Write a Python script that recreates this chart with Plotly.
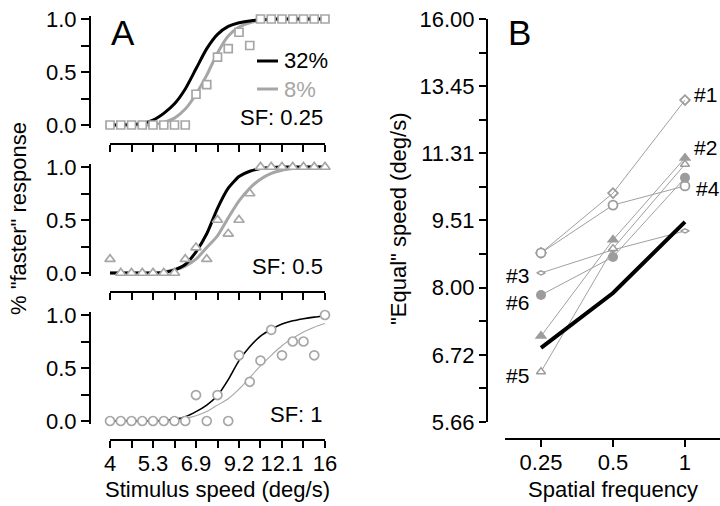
import plotly.graph_objects as go

W, H = 720, 506
FONT = "Liberation Sans, Arial, Helvetica, sans-serif"
GRAY = "#a6a6a6"

# ---------------- Panel A data ----------------
# stimulus speeds (deg/s), 21 log-spaced levels
speed = [4.0, 4.287, 4.595, 4.925, 5.278, 5.657, 6.063, 6.498, 6.964, 7.464, 8.0,
         8.574, 9.190, 9.849, 10.556, 11.314, 12.126, 12.996, 13.929, 14.929, 16.0]
x_tickvals = [4.0, 4.595, 5.278, 6.063, 6.964, 8.0, 9.190, 10.556, 12.126, 13.929, 16.0]
x_ticktext = ["4", "", "5.3", "", "6.9", "", "9.2", "", "12.1", "", "16"]

# SF 0.25
data_025 = [0, 0, 0, 0, 0, 0, 0, 0, 0.29, 0.38, 0.64, 0.72, 0.875, 0.75, 1, 1, 1, 1, 1, 1, 1]
fit_025_32 = [0, 0, 0.005, 0.015, 0.045, 0.11, 0.2, 0.34, 0.53, 0.72, 0.855, 0.93, 0.965,
              0.982, 0.993, 0.998, 1, 1, 1, 1, 1]
fit_025_8 = [0, 0, 0, 0, 0.005, 0.025, 0.065, 0.15, 0.29, 0.47, 0.68, 0.84, 0.925, 0.965,
             0.985, 0.995, 1, 1, 1, 1, 1]
# SF 0.5
data_05 = [0.13, 0, 0, 0, 0, 0, 0, 0.13, 0.24, 0.13, 0.5, 0.37, 0.5, 0.75, 1, 1, 1, 1, 1, 1, 1]
fit_05_32 = [0, 0, 0, 0, 0, 0.005, 0.03, 0.08, 0.2, 0.37, 0.61, 0.8, 0.91, 0.96, 0.985,
             0.995, 1, 1, 1, 1, 1]
fit_05_8 = [0, 0, 0, 0, 0, 0.01, 0.03, 0.065, 0.13, 0.24, 0.35, 0.52, 0.68, 0.8, 0.885,
            0.94, 0.97, 0.985, 0.995, 1, 1]
# SF 1
data_1 = [0, 0, 0, 0, 0, 0, 0, 0, 0.245, 0, 0.245, 0, 0.62, 0.37, 0.57, 0.86, 0.62, 0.75,
          0.75, 0.62, 1.0]
fit_1_32 = [0, 0, 0, 0, 0, 0.005, 0.015, 0.04, 0.088, 0.15, 0.24, 0.39, 0.57, 0.7, 0.8,
            0.865, 0.915, 0.945, 0.965, 0.98, 0.99]
fit_1_8 = [0, 0, 0, 0, 0, 0, 0.01, 0.025, 0.05, 0.09, 0.15, 0.21, 0.3, 0.41, 0.52, 0.62,
           0.71, 0.78, 0.84, 0.885, 0.92]

# ---------------- Panel B data ----------------
sf = [0.25, 0.5, 1.0]
subj1 = [8.75, 10.21, 12.98]
subj2 = [7.06, 9.05, 11.18]
subj3 = [8.31, 8.82, 9.26]
subj4 = [8.75, 9.90, 10.40]
subj5 = [6.44, 8.85, 11.0]
subj6 = [7.85, 8.66, 10.62]
mean_eq = [6.85, 7.89, 9.48]
b_ytickvals = [5.657, 6.169, 6.727, 7.336, 8.0, 8.724, 9.514, 10.375, 11.314, 12.338,
               13.454, 14.672, 16.0]
b_yticktext = ["5.66", "", "6.72", "", "8.00", "", "9.51", "", "11.31", "", "13.45", "", "16.00"]
b_xtickvals = [0.25, 0.5, 1.0]
b_xticktext = ["0.25", "0.5", "1"]


def px(x):
    return x / W


def py(y):
    return 1 - y / H


fig = go.Figure()

# ----- Panel A subplots -----
panels = [
    ("x", "y", data_025, fit_025_32, fit_025_8, "square", 8, 3, 3, 0),
    ("x2", "y2", data_05, fit_05_32, fit_05_8, "triangle-up", 9, 3, 3, 148),
    ("x3", "y3", data_1, fit_1_32, fit_1_8, "circle", 9, 1.6, 1.1, 296),
]
pad = 0.025
for i, (xa, ya, dat, f32, f8, sym, msz, w32, w8, off) in enumerate(panels):
    fig.add_trace(go.Scatter(x=speed, y=f8, xaxis=xa, yaxis=ya, mode="lines",
                             line=dict(color=GRAY, width=w8, shape="spline", smoothing=0.6),
                             hoverinfo="skip"))
    fig.add_trace(go.Scatter(x=speed, y=f32, xaxis=xa, yaxis=ya, mode="lines",
                             line=dict(color="black", width=w32, shape="spline", smoothing=0.6),
                             hoverinfo="skip"))
    fig.add_trace(go.Scatter(x=speed, y=dat, xaxis=xa, yaxis=ya, mode="markers",
                             cliponaxis=False,
                             marker=dict(symbol=sym, size=msz, color="white",
                                         line=dict(color=GRAY, width=1.7))))
    y0 = 125 + off
    y1 = 19 + off
    unit = (y0 - y1)
    dom = [py(y0 + pad * unit), py(y1 - pad * unit)]
    suffix = "" if i == 0 else str(i + 1)
    fig.update_layout(**{
        "xaxis" + suffix: dict(domain=[px(110), px(325)], type="log",
                               range=[0.60200, 1.20418], anchor="free", automargin=False,
                               position=py(144 + off), showline=True, linewidth=2,
                               linecolor="black", ticks="outside", ticklen=7, tickwidth=2,
                               tickcolor="black", tickvals=x_tickvals,
                               ticktext=x_ticktext if i == 2 else [""] * 11,
                               ticklabelstandoff=-3,
                               showgrid=False, zeroline=False,
                               tickfont=dict(family=FONT, size=22, color="black")),
        "yaxis" + suffix: dict(domain=dom, range=[-pad, 1 + pad], anchor="free",
                               automargin=False,
                               position=px(90), showline=True, linewidth=2,
                               linecolor="black", ticks="outside", ticklen=8, tickwidth=2,
                               tickcolor="black", tickvals=[0, 0.25, 0.5, 0.75, 1],
                               ticktext=["0.0", "", "0.5", "", "1.0"], showgrid=False,
                               zeroline=False,
                               tickfont=dict(family=FONT, size=22, color="black")),
    })

# ----- Panel B -----
line_g = dict(color="#a0a0a0", width=1)
subjects = [
    (subj1, dict(symbol="diamond-open", size=7.5, color="#9c9c9c", line=dict(width=1.7))),
    (subj4, dict(symbol="circle", size=9, color="white", line=dict(color="#9c9c9c", width=1.8))),
    (subj3, dict(symbol="diamond-wide", size=6, color="white", line=dict(color="#9c9c9c", width=1.4))),
    (subj5, dict(symbol="triangle-up", size=8, color="white", line=dict(color="#9c9c9c", width=1.4))),
    (subj2, dict(symbol="triangle-up", size=11, color="#9c9c9c", line=dict(width=0))),
    (subj6, dict(symbol="circle", size=10, color="#9c9c9c", line=dict(width=0))),
]
for vals, mk in subjects:
    fig.add_trace(go.Scatter(x=sf, y=vals, xaxis="x4", yaxis="y4", mode="lines+markers",
                             line=line_g, marker=mk, cliponaxis=False))
fig.add_trace(go.Scatter(x=sf, y=mean_eq, xaxis="x4", yaxis="y4", mode="lines",
                         line=dict(color="black", width=4)))

fig.update_layout(
    xaxis4=dict(domain=[px(505), 1.0], type="log", range=[-0.7526, 0.1464], anchor="free",
                automargin=False, ticklabelstandoff=-3,
                position=py(439), showline=True, linewidth=2, linecolor="black",
                ticks="outside", ticklen=7, tickwidth=2, tickcolor="black",
                tickvals=b_xtickvals, ticktext=b_xticktext, showgrid=False, zeroline=False,
                tickfont=dict(family=FONT, size=22, color="black")),
    yaxis4=dict(domain=[py(422), py(19)], type="log", range=[0.75257, 1.20412],
                anchor="free", position=px(487), showline=True, linewidth=2,
                automargin=False,
                linecolor="black", ticks="outside", ticklen=7, tickwidth=2,
                tickcolor="black", tickvals=b_ytickvals, ticktext=b_yticktext,
                showgrid=False, zeroline=False,
                tickfont=dict(family=FONT, size=22, color="black")),
)

# ----- text -----
def ann(text, x, y, size=22, color="black", xanchor="center", angle=0):
    fig.add_annotation(text=text, x=px(x), y=py(y), xref="paper", yref="paper",
                       showarrow=False, xanchor=xanchor, yanchor="middle", textangle=angle,
                       font=dict(family=FONT, size=size, color=color))

ann("A", 109, 33, size=35, xanchor="left")
ann("B", 506, 33, size=35, xanchor="left")
ann('% "faster" response', 19, 219, angle=-90)
ann('"Equal" speed (deg/s)', 399, 219, angle=-90)
ann("Stimulus speed (deg/s)", 217, 489)
ann("Spatial frequency", 613, 489)
ann("SF: 0.25", 325, 117, xanchor="right")
ann("SF: 0.5", 325, 266, xanchor="right")
ann("SF: 1", 325, 414, xanchor="right")
ann("32%", 282, 61, xanchor="left")
ann("8%", 282, 90, color=GRAY, xanchor="left")
fig.add_shape(type="line", xref="paper", yref="paper", x0=px(257), x1=px(278),
              y0=py(61), y1=py(61), line=dict(color="black", width=3))
fig.add_shape(type="line", xref="paper", yref="paper", x0=px(257), x1=px(278),
              y0=py(89), y1=py(89), line=dict(color=GRAY, width=3))
ann("#1", 692, 94, size=21, xanchor="left")
ann("#2", 692, 147, size=21, xanchor="left")
ann("#4", 694, 188, size=21, xanchor="left")
ann("#3", 531, 275, size=21, xanchor="right")
ann("#6", 531, 302, size=21, xanchor="right")
ann("#5", 531, 375, size=21, xanchor="right")

fig.update_layout(width=W, height=H, margin=dict(l=0, r=0, t=0, b=0, autoexpand=False),
                  plot_bgcolor="white", paper_bgcolor="white", showlegend=False)

fig.write_html("out.html", config={"displayModeBar": False},
               post_script="document.body.style.margin='0';")
